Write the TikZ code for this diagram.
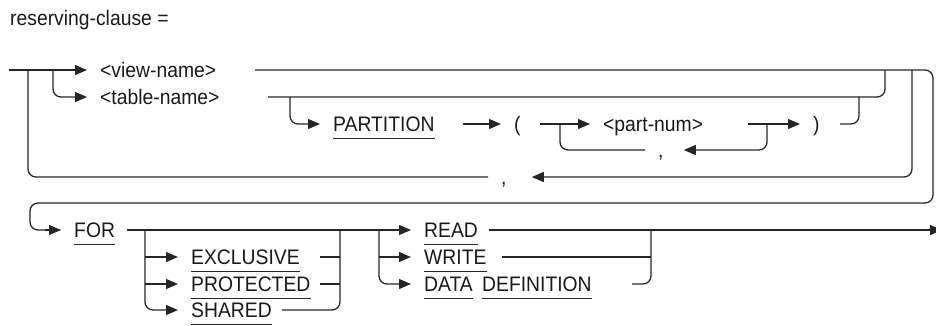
\documentclass[tikz,border=0pt]{standalone}
\usepackage{fontspec}
\setmainfont{Liberation Sans}[FakeStretch=0.92]
\usetikzlibrary{arrows.meta}
\begin{document}
\begin{tikzpicture}[x=1pt,y=-1pt,
  t/.style={font=\fontsize{21}{24}\selectfont, text=black!90, inner sep=0pt, text height=15pt, text depth=0pt, anchor=west},
  u/.style={t, append after command={([yshift=-7pt]\tikzlastnode.south west) edge[line width=1.2pt, draw=black!85] ([yshift=-7pt]\tikzlastnode.south east)}},
  ln/.style={line width=1.3pt, draw=black!85, rounded corners=8pt},
  tip/.style={-{Triangle[length=12pt,width=10pt]}},
  ar/.style={ln, tip, shorten >=13pt}]
\useasboundingbox (0,0) rectangle (936,325);
% title
\node[t, anchor=base west] (title) at (10,25) {reserving-clause =};
% texts
\node[t] (view) at (100,70) {<view-name>};
\node[t] (table) at (100,97) {<table-name>};
\node[u] (part) at (333,124) {PARTITION};
\node[t] (lp) at (514,124) {(};
\node[t] (pnum) at (603,124) {<part-num>};
\node[t] (rp) at (813,124) {)};
\node[t] (c1) at (658,150) {,};
\node[t] (c2) at (501,177) {,};
\node[u] (for) at (74,230) {FOR};
\node[u] (excl) at (191,257) {EXCLUSIVE};
\node[u] (prot) at (191,284) {PROTECTED};
\node[u] (shar) at (191,310) {SHARED};
\node[u] (read) at (424,230) {READ};
\node[u] (write) at (424,257) {WRITE};
\node[u] (data) at (424,284) {DATA};
\node[u] (def) at (482,284) {DEFINITION};
% coordinates
\coordinate (start) at (9,70);
\coordinate (viewout) at (255,70);
\coordinate (tableout) at (268,97);
\coordinate (partout) at (463,124);
\coordinate (lpout) at (540,124);
\coordinate (pnumout) at (748,124);
\coordinate (rpout) at (840,124);
\coordinate (c1out) at (645,150);
\coordinate (c2out) at (488,177);
\coordinate (forout) at (127,230);
\coordinate (exclout) at (320,257);
\coordinate (protout) at (320,284);
\coordinate (sharout) at (282,310);
\coordinate (readout) at (489,230);
\coordinate (writeout) at (502,257);
\coordinate (defout) at (632,284);
\coordinate (end) at (942,230);
% top part
\draw[ar] (start) -- (view.west);
\draw[ar] (53,70) -- (53,97) -- (table.west);
\draw[ln] (viewout) -- (933,70) -- (933,203) -- (30,203) -- (30,230) -- (60,230);
\draw[ar] (45,230) -- (for.west);
\draw[ln] (tableout) -- (885,97) -- (885,70);
\draw[ar] (290,97) -- (290,124) -- (part.west);
\draw[ar] (partout) -- (lp.west);
\draw[ar] (lpout) -- (pnum.west);
\draw[ar, shorten >=20pt] (767,124) -- (767,150) -- (c1.east);
\draw[ln] (c1out) -- (560,150) -- (560,124);
\draw[ar] (pnumout) -- (rp.west);
\draw[ln] (rpout) -- (859,124) -- (859,97);
\draw[ar, shorten >=25pt] (912,70) -- (912,177) -- (c2.east);
\draw[ln] (c2out) -- (28,177) -- (28,70);
% bottom part
\draw[ar] (forout) -- (read.west);
\draw[ar] (145,230) -- (145,310) -- (shar.west);
\draw[ar] (145,257) -- (excl.west);
\draw[ar] (145,284) -- (prot.west);
\draw[ln] (exclout) -- (340,257);
\draw[ln] (protout) -- (340,284);
\draw[ln] (sharout) -- (340,310) -- (340,230);
\draw[ar] (379,230) -- (379,284) -- (data.west);
\draw[ar] (379,257) -- (write.west);
\draw[ln, tip] (readout) -- (end);
\draw[ln] (writeout) -- (651,257);
\draw[ln] (defout) -- (651,284) -- (651,230);
\end{tikzpicture}
\end{document}
